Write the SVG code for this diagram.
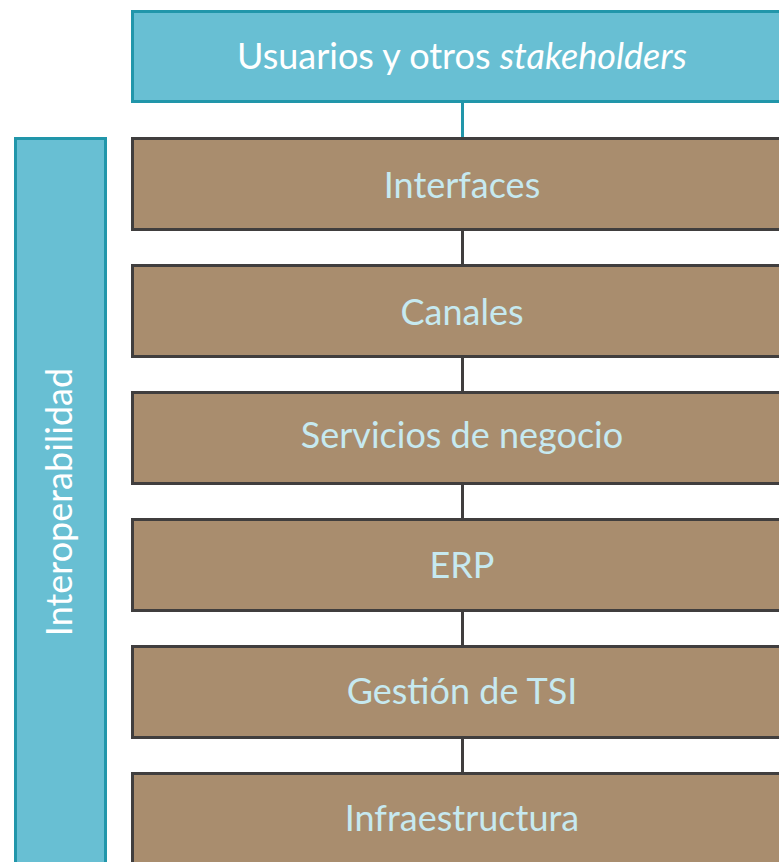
<svg xmlns="http://www.w3.org/2000/svg" width="779" height="862" viewBox="0 0 779 862">
<style>
.teal{fill:#68bfd3;stroke:#2196aa;stroke-width:3}
.brown{fill:#a98d6e;stroke:#403e3e;stroke-width:3}
.t{font-family:Lato,"Liberation Sans",sans-serif;font-size:36px;font-weight:400;text-anchor:middle}
.lt{fill:#c6e9f0}
.wt{fill:#ffffff}
.c{stroke-width:3;fill:none}
</style>
<rect width="779" height="862" fill="#ffffff"/>
<g id="connectors">
<line class="c" x1="462.5" y1="101" x2="462.5" y2="139" stroke="#2196aa"/>
<line class="c" x1="462.5" y1="229" x2="462.5" y2="266" stroke="#403e3e"/>
<line class="c" x1="462.5" y1="356" x2="462.5" y2="393" stroke="#403e3e"/>
<line class="c" x1="462.5" y1="483" x2="462.5" y2="520" stroke="#403e3e"/>
<line class="c" x1="462.5" y1="610" x2="462.5" y2="647" stroke="#403e3e"/>
<line class="c" x1="462.5" y1="737" x2="462.5" y2="774" stroke="#403e3e"/>
</g>
<g id="usuarios">
<rect class="teal" x="132.5" y="11.5" width="670" height="90"/>
<text class="t wt" x="462" y="69">Usuarios y otros <tspan font-style="italic">stakeholders</tspan></text>
</g>
<g id="interoperabilidad">
<rect class="teal" x="15.5" y="138.5" width="90" height="740"/>
<text class="t wt" transform="translate(72,502) rotate(-90)" x="0" y="0">Interoperabilidad</text>
</g>
<g id="interfaces">
<rect class="brown" x="132.5" y="138.5" width="670" height="91"/>
<text class="t lt" x="462" y="198">Interfaces</text>
</g>
<g id="canales">
<rect class="brown" x="132.5" y="265.5" width="670" height="91"/>
<text class="t lt" x="462" y="325">Canales</text>
</g>
<g id="servicios">
<rect class="brown" x="132.5" y="392.5" width="670" height="91"/>
<text class="t lt" x="462" y="448">Servicios de negocio</text>
</g>
<g id="erp">
<rect class="brown" x="132.5" y="519.5" width="670" height="91"/>
<text class="t lt" x="462" y="578">ERP</text>
</g>
<g id="gestion">
<rect class="brown" x="132.5" y="646.5" width="670" height="91"/>
<text class="t lt" x="462" y="704">Gestión de TSI</text>
</g>
<g id="infraestructura">
<rect class="brown" x="132.5" y="773.5" width="670" height="91"/>
<text class="t lt" x="462" y="831">Infraestructura</text>
</g>
</svg>
